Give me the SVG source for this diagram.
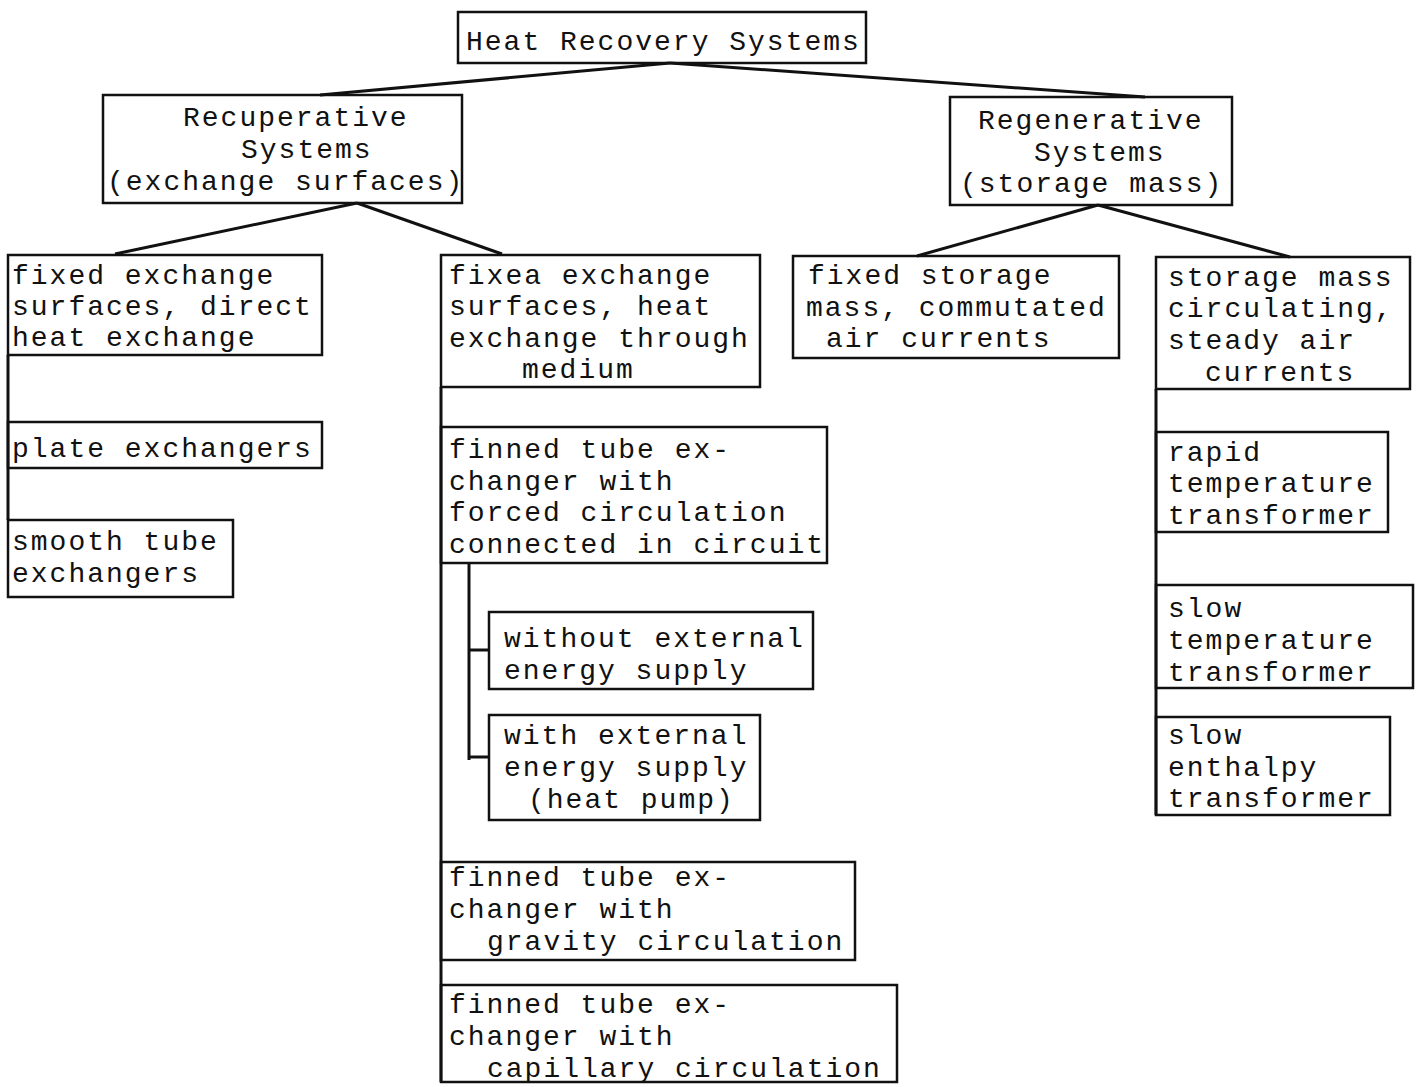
<svg xmlns="http://www.w3.org/2000/svg" width="1417" height="1087" viewBox="0 0 1417 1087">
<style>
.b{fill:none;stroke:#111;stroke-width:2.5}
.c{fill:none;stroke:#111;stroke-width:3}
text{font-family:"Liberation Mono","DejaVu Sans Mono",monospace;font-size:28px;letter-spacing:2px;fill:#111}
</style>
<rect width="1417" height="1087" fill="#fff"/>
<g id="connectors">
<path class="c" d="M670 63 L320 95"/>
<path class="c" d="M670 63 L1145 97"/>
<path class="c" d="M357 203 L115 254"/>
<path class="c" d="M357 203 L502 254"/>
<path class="c" d="M1098 205 L917 256"/>
<path class="c" d="M1098 205 L1290 257"/>
<path class="c" d="M8 355 V520"/>
<path class="c" d="M441 387 V1082"/>
<path class="c" d="M469 563 V760"/>
<path class="c" d="M469 650 H489"/>
<path class="c" d="M469 757 H489"/>
<path class="c" d="M1156 389 V815"/>
</g>
<g id="n1"><rect class="b" x="458" y="12" width="408" height="51"/><text x="466" y="50">Heat Recovery Systems</text></g>
<g id="n2"><rect class="b" x="103" y="95" width="359" height="108"/><text x="183" y="126">Recuperative</text><text x="241" y="158">Systems</text><text x="107" y="190">(exchange surfaces)</text></g>
<g id="n3"><rect class="b" x="950" y="97" width="282" height="108"/><text x="978" y="129">Regenerative</text><text x="1034" y="161">Systems</text><text x="960" y="192">(storage mass)</text></g>
<g id="n4"><rect class="b" x="8" y="255" width="314" height="100"/><text x="12" y="284">fixed exchange</text><text x="12" y="315">surfaces, direct</text><text x="12" y="346">heat exchange</text></g>
<g id="n5"><rect class="b" x="441" y="255" width="319" height="132"/><text x="449" y="284">fixea exchange</text><text x="449" y="315">surfaces, heat</text><text x="449" y="347">exchange through</text><text x="522" y="378">medium</text></g>
<g id="n6"><rect class="b" x="793" y="256" width="326" height="102"/><text x="808" y="284">fixed storage</text><text x="806" y="316">mass, commutated</text><text x="826" y="347">air currents</text></g>
<g id="n7"><rect class="b" x="1156" y="257" width="254" height="132"/><text x="1168" y="286">storage mass</text><text x="1168" y="317">circulating,</text><text x="1168" y="349">steady air</text><text x="1205" y="381">currents</text></g>
<g id="n8"><rect class="b" x="8" y="422" width="314" height="46"/><text x="12" y="457">plate exchangers</text></g>
<g id="n9"><rect class="b" x="8" y="520" width="225" height="77"/><text x="12" y="550">smooth tube</text><text x="12" y="582">exchangers</text></g>
<g id="n10"><rect class="b" x="441" y="427" width="386" height="136"/><text x="449" y="458">finned tube ex-</text><text x="449" y="490">changer with</text><text x="449" y="521">forced circulation</text><text x="449" y="553">connected in circuit</text></g>
<g id="n11"><rect class="b" x="489" y="612" width="324" height="77"/><text x="504" y="647">without external</text><text x="504" y="679">energy supply</text></g>
<g id="n12"><rect class="b" x="489" y="715" width="271" height="105"/><text x="504" y="744">with external</text><text x="504" y="776">energy supply</text><text x="528" y="808">(heat pump)</text></g>
<g id="n13"><rect class="b" x="441" y="862" width="414" height="98"/><text x="449" y="886">finned tube ex-</text><text x="449" y="918">changer with</text><text x="487" y="950">gravity circulation</text></g>
<g id="n14"><rect class="b" x="441" y="985" width="456" height="97"/><text x="449" y="1013">finned tube ex-</text><text x="449" y="1045">changer with</text><text x="487" y="1077">capillary circulation</text></g>
<g id="n15"><rect class="b" x="1156" y="432" width="232" height="100"/><text x="1168" y="461">rapid</text><text x="1168" y="492">temperature</text><text x="1168" y="524">transformer</text></g>
<g id="n16"><rect class="b" x="1156" y="585" width="257" height="103"/><text x="1168" y="617">slow</text><text x="1168" y="649">temperature</text><text x="1168" y="681">transformer</text></g>
<g id="n17"><rect class="b" x="1156" y="717" width="234" height="98"/><text x="1168" y="744">slow</text><text x="1168" y="776">enthalpy</text><text x="1168" y="807">transformer</text></g>
</svg>
